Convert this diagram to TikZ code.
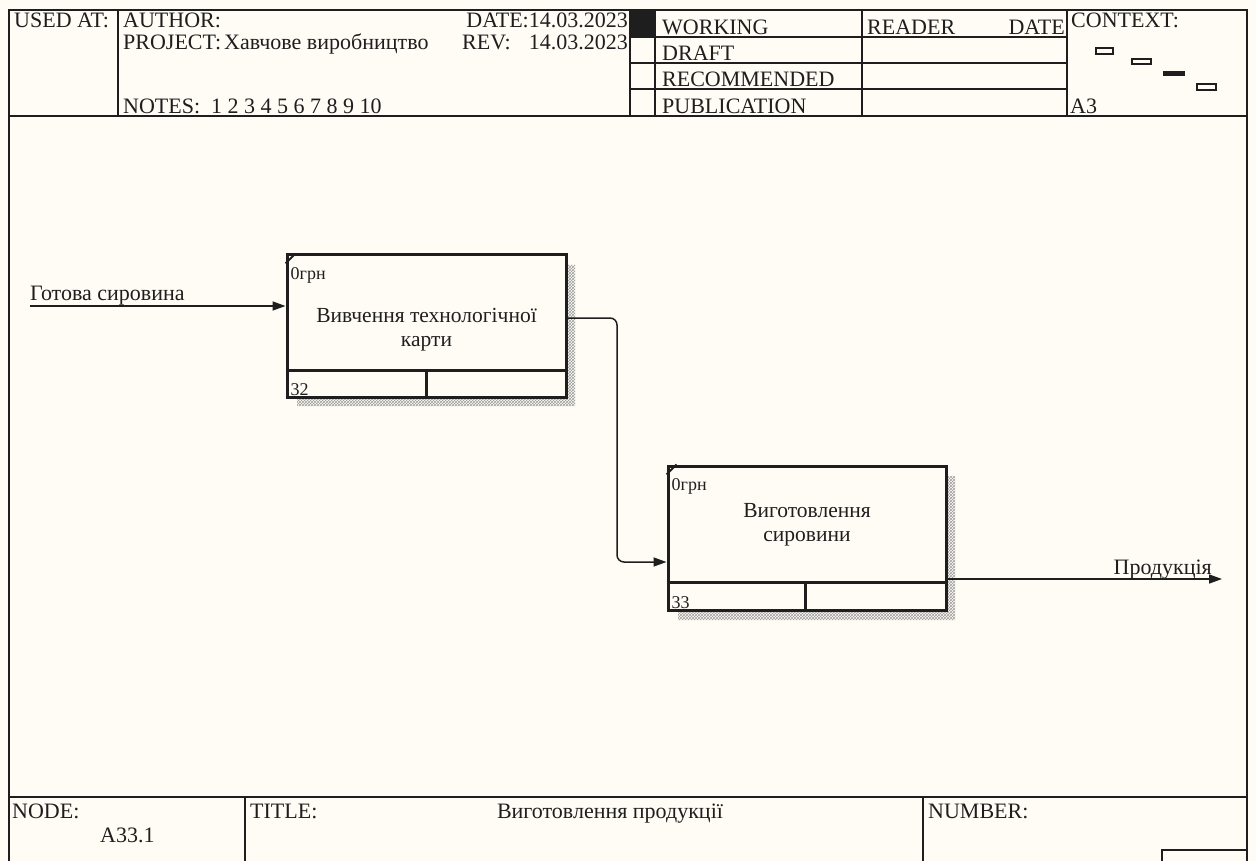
\documentclass[tikz,border=0pt]{standalone}
\usepackage{fontspec}
\setmainfont{Liberation Serif}
\usetikzlibrary{arrows.meta,patterns,calc}
\definecolor{bg}{RGB}{255,252,245}
\definecolor{ink}{RGB}{30,30,30}
\begin{document}
\begin{tikzpicture}[x=1pt,y=-1pt,font=\fontsize{22}{24}\selectfont,
  frame/.style={draw=ink,line width=1.8pt},
  txt/.style={anchor=base west,inner sep=0pt,text=ink},
  txtr/.style={anchor=base east,inner sep=0pt,text=ink},
  proc/.style={draw=ink,line width=3pt,minimum width=279pt,minimum height=142pt,inner sep=0pt,fill=bg},
  inner/.style={draw=ink,line width=2.4pt},
  arr/.style={draw=ink,line width=1.5pt,-{Triangle[length=13pt,width=9pt]}},
  shade/.style={pattern=crosshatch,pattern color=gray!75},
  ctx/.style={draw=ink,line width=1.3pt},
  small/.style={font=\fontsize{18}{20}\selectfont},
  lbl/.style={align=center,inner sep=0pt,text=ink,font=\fontsize{21.5}{24}\selectfont}]
\useasboundingbox (0,0) rectangle (1256,861);
\fill[bg] (0,0) rectangle (1256,861);

% ---------- header ----------
\draw[frame] (9,861) -- (9,10) -- (1247,10) -- (1247,861);
\draw[frame] (9,116) -- (1247,116);
\foreach \x in {118,630,655,862,1067} \draw[frame] (\x,10) -- (\x,116);
\foreach \y in {37,63,89} \draw[frame] (630,\y) -- (1067,\y);
\fill[ink] (630,10) rectangle (655,37);

\node[txt] (usedat) at (14,28) {USED AT:};
\node[txt] (author) at (123,28) {AUTHOR:};
\node[txt] (project) at (123,50) {PROJECT:};
\node[txt] (projname) at (224,50) {Хавчове виробництво};
\node[txt] (notes) at (123,114) {NOTES:\ \ 1 2 3 4 5 6 7 8 9 10};
\node[txtr] (date) at (628,28) {DATE:14.03.2023};
\node[txt] (rev) at (462,50) {REV:};
\node[txtr] (revdate) at (628,50) {14.03.2023};
\node[txt] (working) at (662,35) {WORKING};
\node[txt] (draft) at (662,61) {DRAFT};
\node[txt] (recom) at (662,87) {RECOMMENDED};
\node[txt] (publ) at (662,114) {PUBLICATION};
\node[txt] (reader) at (867,35) {READER};
\node[txtr] (rdate) at (1065,35) {DATE};
\node[txt] (context) at (1071,28) {CONTEXT:};
\node[txt] (a3) at (1070,114) {A3};
\draw[ctx] (1096,48) rectangle (1113,54);
\draw[ctx] (1132,59) rectangle (1151,64);
\fill[ink] (1163,71) rectangle (1185,76);
\draw[ctx] (1197,84) rectangle (1216,90);

% ---------- footer ----------
\draw[frame] (9,797) -- (1247,797);
\draw[frame] (245,797) -- (245,861);
\draw[frame] (923,797) -- (923,861);
\draw[frame] (1162,861) -- (1162,850) -- (1247,850);
\node[txt] (nodelbl) at (12,818) {NODE:};
\node[txt] (nodenum) at (100,842) {A33.1};
\node[txt] (titlelbl) at (250,818) {TITLE:};
\node[anchor=base,inner sep=0pt,text=ink] (title) at (610,818) {Виготовлення продукції};
\node[txt] (numberlbl) at (928,818) {NUMBER:};

% ---------- shadows ----------
\path[shade] (566,265) -- (575,265) -- (575,406) -- (297,406) -- (297,397) -- (566,397) -- cycle;
\path[shade] (946,476) -- (955,476) -- (955,620) -- (678,620) -- (678,610) -- (946,610) -- cycle;

% ---------- boxes ----------
\node[proc] (b1) at (426.5,326) {};
\node[proc,minimum width=278pt,minimum height=144pt] (b2) at (807,538) {};

\draw[inner] ($(b1.south west)+(0,-28)$) -- ($(b1.south east)+(0,-28)$);
\draw[inner] ($(b1.south west)+(141,0)$) -- ($(b1.south west)+(141,-28)$);
\draw[inner] ($(b2.south west)+(0,-29)$) -- ($(b2.south east)+(0,-29)$);
\draw[inner] ($(b2.south west)+(139,0)$) -- ($(b2.south west)+(139,-29)$);
\draw[ink,line width=1.8pt] ($(b1.north west)+(0,10)$) -- ($(b1.north west)+(10,0)$);
\draw[ink,line width=1.8pt] ($(b2.north west)+(0,10)$) -- ($(b2.north west)+(10,0)$);

\node[txt,small] (b1cost) at ($(b1.north west)+(5,26)$) {0грн};
\node[txt,small] (b1num) at ($(b1.south west)+(5,-3)$) {32};
\node[lbl] (b1text) at ($(b1.center)+(0,4)$) {Вивчення технологічної\\карти};
\node[txt,small] (b2cost) at ($(b2.north west)+(5,26)$) {0грн};
\node[txt,small] (b2num) at ($(b2.south west)+(5,-3)$) {33};
\node[lbl] (b2text) at ($(b2.center)+(0,-13)$) {Виготовлення\\сировини};

% ---------- arrows ----------
\coordinate (inp) at (30,306);
\draw[arr] (inp) -- (inp -| b1.west);
\node[txt] (inplbl) at (30,300) {Готова сировина};

\coordinate (bend) at (617,0);
\coordinate (s1) at ($(b1.east)+(0,-8)$);
\coordinate (e2) at ($(b2.west)+(0,24)$);
\draw[arr,rounded corners=7pt] (s1) -- (s1 -| bend) -- (e2 -| bend) -- (e2);

\coordinate (outp) at (1222,579);
\draw[arr] (outp -| b2.east) -- (outp);
\node[txtr] (outlbl) at (1212,574) {Продукція};
\end{tikzpicture}
\end{document}
